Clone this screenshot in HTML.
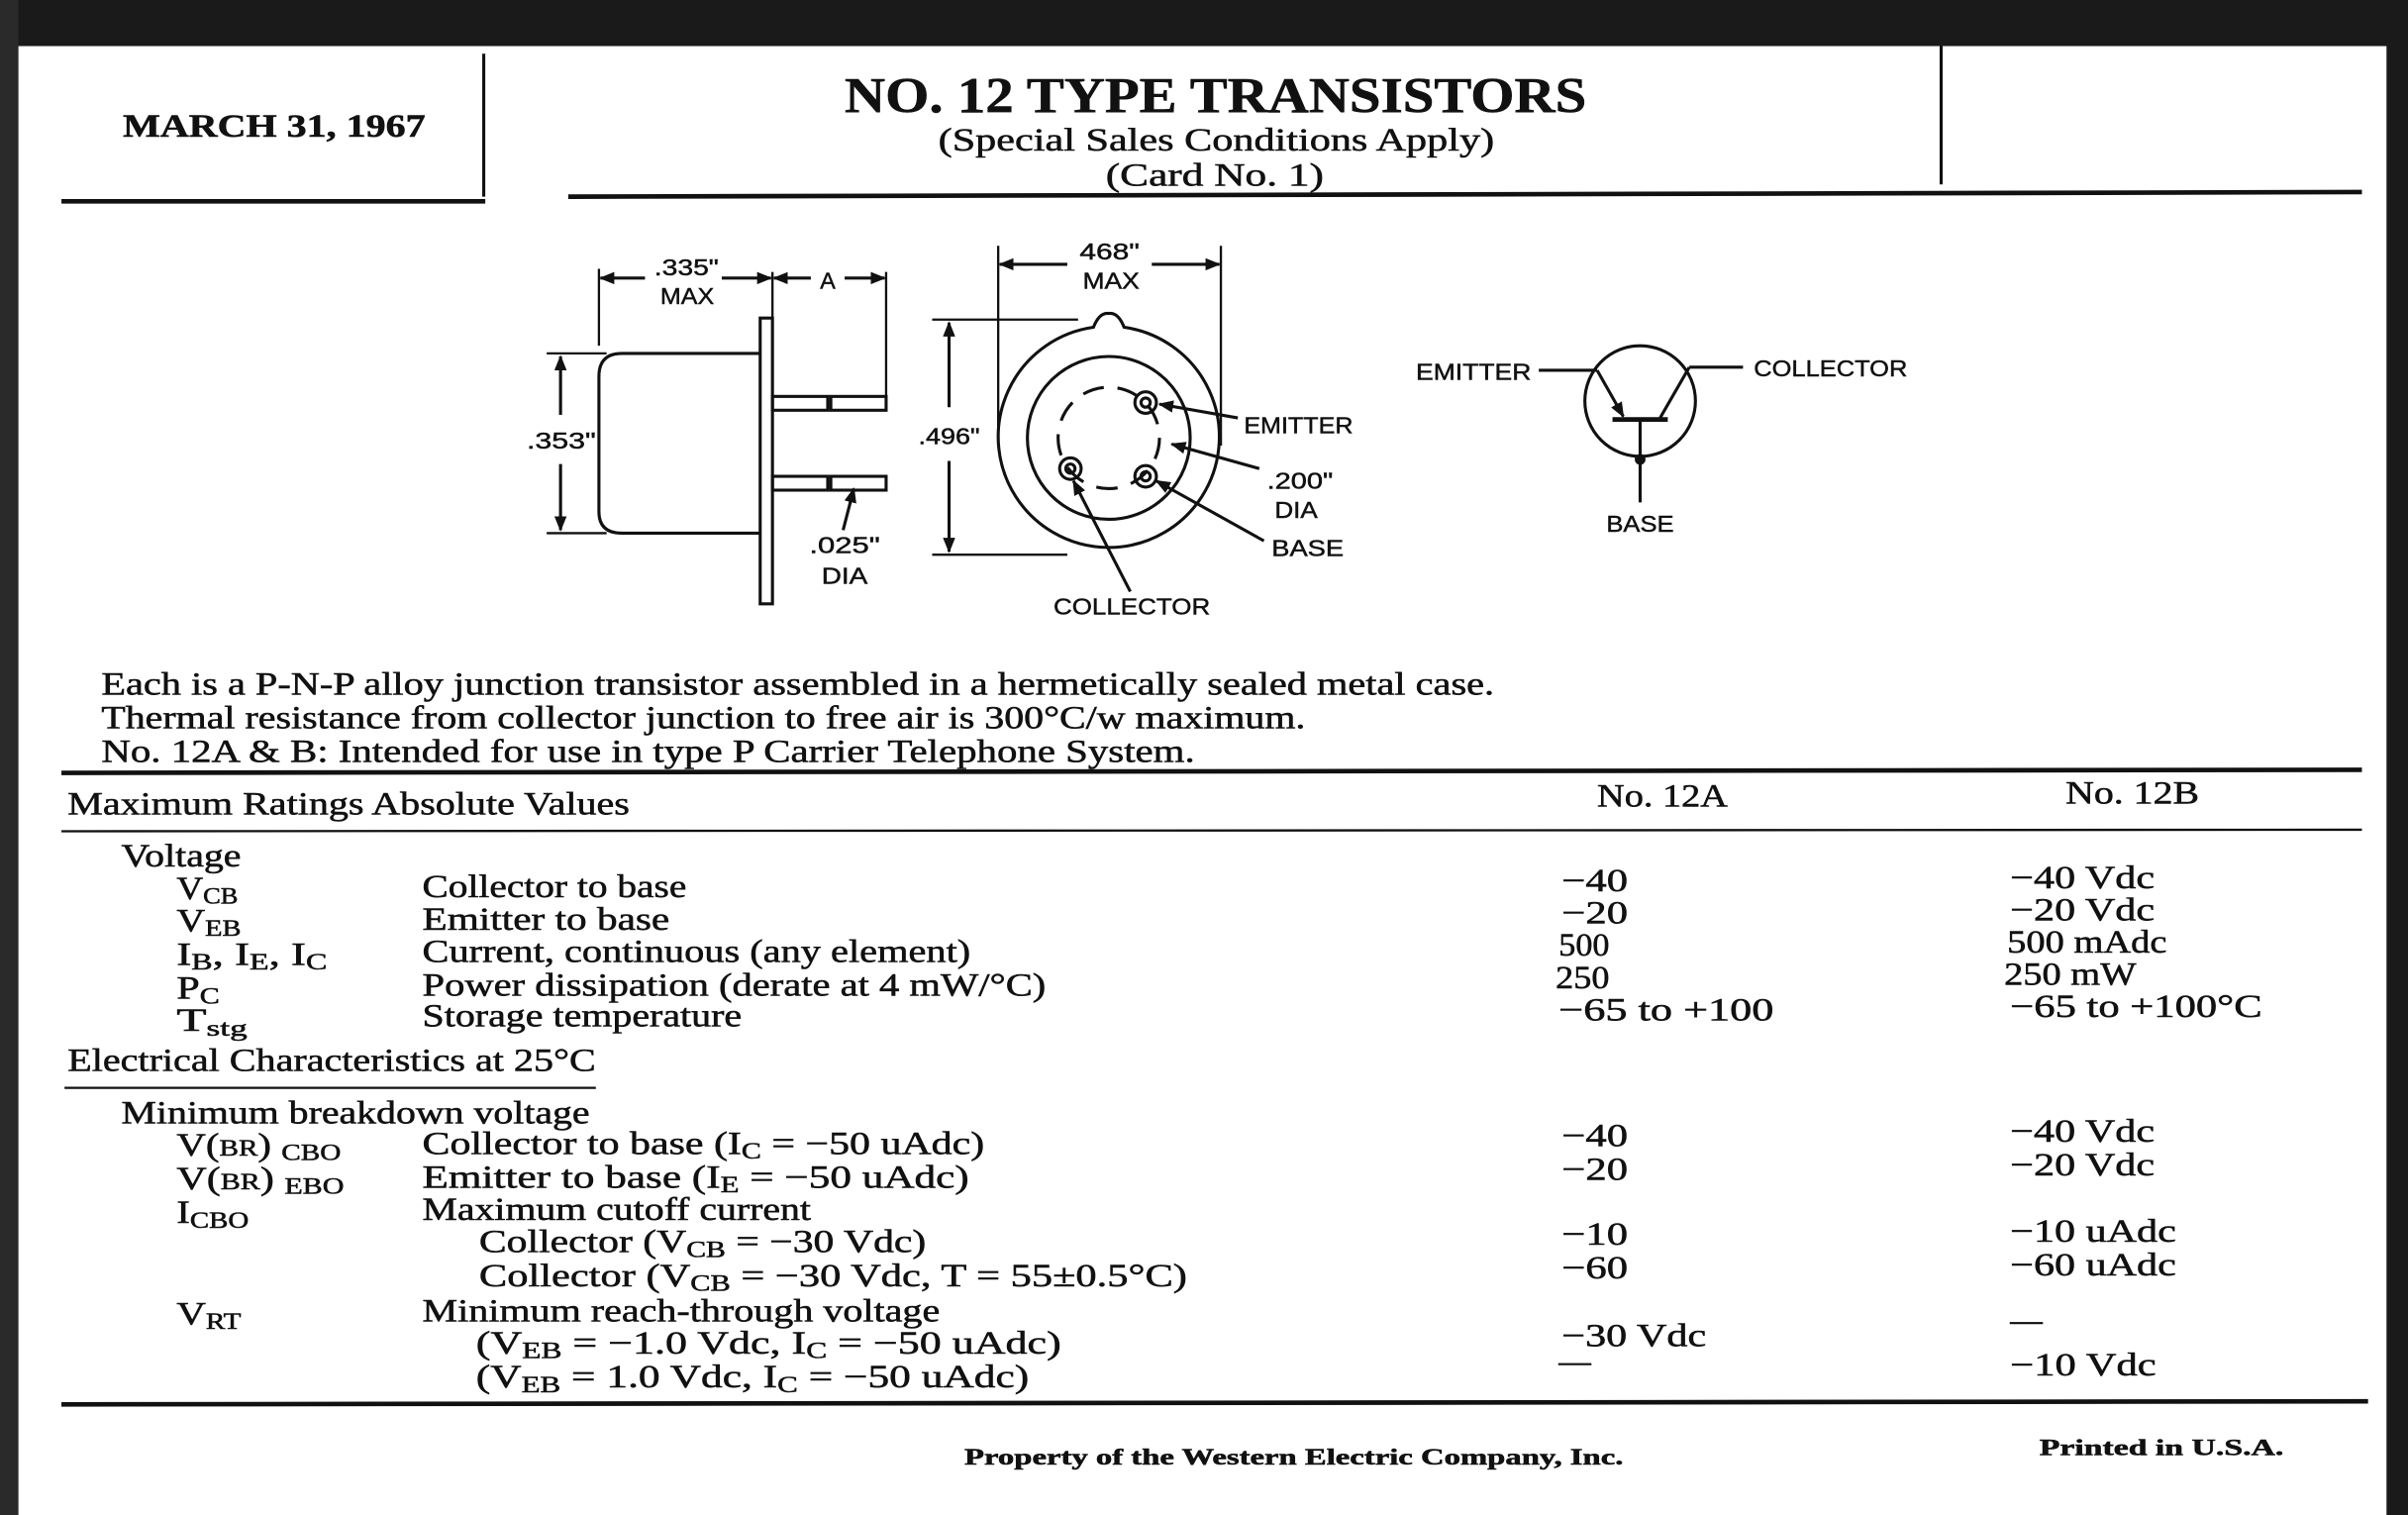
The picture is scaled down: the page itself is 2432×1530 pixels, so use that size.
<!DOCTYPE html>
<html><head><meta charset="utf-8"><style>
html,body{margin:0;padding:0;background:#fff;}
svg{display:block;}
.s{font-family:"Liberation Serif",serif;fill:#111;stroke:#111;stroke-width:0.35;}
.a{font-family:"Liberation Sans",sans-serif;fill:#111;font-size:15px;stroke:#111;stroke-width:0.3;}
</style></head><body>
<svg width="2432" height="1530" viewBox="0 0 1568 986" preserveAspectRatio="none" xmlns="http://www.w3.org/2000/svg">
<defs>
<marker id="ar" markerWidth="10" markerHeight="8" refX="9" refY="4" orient="auto" markerUnits="userSpaceOnUse"><path d="M0,0 L10,4 L0,8 z" fill="#111"/></marker>
</defs>
<rect width="1568" height="986" fill="#fff"/>
<rect x="0" y="0" width="1568" height="30" fill="#1a1a1a"/>
<rect x="0" y="0" width="12" height="986" fill="#2a2a2a"/>
<rect x="1554" y="0" width="14" height="986" fill="#1a1a1a"/>
<g stroke="#111" fill="none">
<line x1="315" y1="35" x2="315" y2="128" stroke-width="2"/>
<line x1="40" y1="131" x2="316" y2="131" stroke-width="3"/>
<line x1="370" y1="128" x2="1538" y2="125" stroke-width="3"/>
<line x1="1264" y1="30" x2="1264" y2="120" stroke-width="2"/>
<line x1="40" y1="503" x2="1538" y2="501" stroke-width="3"/>
<line x1="40" y1="541" x2="1538" y2="540" stroke-width="1.5"/>
<line x1="42" y1="708" x2="388" y2="708" stroke-width="1.5"/>
<line x1="40" y1="914" x2="1542" y2="912" stroke-width="3"/>
</g>
<g lengthAdjust="spacingAndGlyphs">
<text class="s" x="80" y="89" font-size="21" font-weight="bold" textLength="197" lengthAdjust="spacingAndGlyphs">MARCH 31, 1967</text>
<text class="s" x="550" y="73" font-size="33" font-weight="bold" textLength="483" lengthAdjust="spacingAndGlyphs">NO. 12 TYPE TRANSISTORS</text>
<text class="s" x="611" y="98" font-size="21" textLength="362" lengthAdjust="spacingAndGlyphs">(Special Sales Conditions Apply)</text>
<text class="s" x="720" y="121" font-size="21" textLength="142" lengthAdjust="spacingAndGlyphs">(Card No. 1)</text>
</g>

<!-- side view -->
<g stroke="#111" stroke-width="2" fill="none">
<path d="M495,230 L405,230 Q390,230 390,245 L390,333 Q390,347 405,347 L495,347"/>
<rect x="495" y="207" width="8" height="186"/>
<rect x="503" y="258" width="36" height="9"/><rect x="541" y="258" width="36" height="9"/>
<rect x="503" y="310" width="36" height="9"/><rect x="541" y="310" width="36" height="9"/>
<line x1="390" y1="175" x2="390" y2="225" stroke-width="1.5"/>
<line x1="503" y1="177" x2="503" y2="207" stroke-width="1.5"/>
<line x1="577" y1="177" x2="577" y2="258" stroke-width="1.5"/>
<line x1="420" y1="181" x2="391" y2="181" marker-end="url(#ar)"/>
<line x1="470" y1="181" x2="502" y2="181" marker-end="url(#ar)"/>
<line x1="528" y1="181" x2="504" y2="181" marker-end="url(#ar)"/>
<line x1="550" y1="181" x2="576" y2="181" marker-end="url(#ar)"/>
<line x1="356" y1="230" x2="395" y2="230" stroke-width="1.5"/>
<line x1="356" y1="347" x2="395" y2="347" stroke-width="1.5"/>
<line x1="365" y1="270" x2="365" y2="232" marker-end="url(#ar)"/>
<line x1="365" y1="302" x2="365" y2="345" marker-end="url(#ar)"/>
<line x1="549" y1="345" x2="556" y2="318" marker-end="url(#ar)"/>
</g>
<text class="a" x="426" y="179" textLength="42" lengthAdjust="spacingAndGlyphs">.335"</text>
<text class="a" x="430" y="198" textLength="35" lengthAdjust="spacingAndGlyphs">MAX</text>
<text class="a" x="539" y="188" text-anchor="middle">A</text>
<text class="a" x="343" y="292" textLength="45" lengthAdjust="spacingAndGlyphs">.353"</text>
<text class="a" x="527" y="360" textLength="46" lengthAdjust="spacingAndGlyphs">.025"</text>
<text class="a" x="535" y="380" textLength="30" lengthAdjust="spacingAndGlyphs">DIA</text>

<!-- front view -->
<g stroke="#111" stroke-width="2" fill="none">
<path d="M712,213 Q716,203 722,204 Q728,203 732,213 A72,72 0 1 1 712,213 Z"/>
<circle cx="722" cy="285" r="53"/>
<circle cx="722" cy="285" r="33" stroke-dasharray="14,9"/>
<circle cx="746" cy="262" r="7"/><circle cx="746" cy="262" r="3"/>
<circle cx="697" cy="305" r="7"/><circle cx="697" cy="305" r="3"/>
<circle cx="746" cy="310" r="7"/><circle cx="746" cy="310" r="3"/>
<line x1="650" y1="160" x2="650" y2="280" stroke-width="1.5"/>
<line x1="795" y1="160" x2="795" y2="290" stroke-width="1.5"/>
<line x1="695" y1="172" x2="651" y2="172" marker-end="url(#ar)"/>
<line x1="750" y1="172" x2="794" y2="172" marker-end="url(#ar)"/>
<line x1="607" y1="208" x2="702" y2="208" stroke-width="1.5"/>
<line x1="607" y1="361" x2="695" y2="361" stroke-width="1.5"/>
<line x1="618" y1="265" x2="618" y2="210" marker-end="url(#ar)"/>
<line x1="618" y1="300" x2="618" y2="359" marker-end="url(#ar)"/>
<line x1="806" y1="272" x2="755" y2="263" marker-end="url(#ar)"/>
<line x1="820" y1="305" x2="763" y2="289" marker-end="url(#ar)"/>
<line x1="823" y1="352" x2="753" y2="313" marker-end="url(#ar)"/>
<line x1="736" y1="385" x2="699" y2="313" marker-end="url(#ar)"/>
</g>
<text class="a" x="703" y="169" textLength="39" lengthAdjust="spacingAndGlyphs">468"</text>
<text class="a" x="705" y="188" textLength="37" lengthAdjust="spacingAndGlyphs">MAX</text>
<text class="a" x="598" y="289" textLength="40" lengthAdjust="spacingAndGlyphs">.496"</text>
<text class="a" x="810" y="282" textLength="71" lengthAdjust="spacingAndGlyphs">EMITTER</text>
<text class="a" x="825" y="318" textLength="43" lengthAdjust="spacingAndGlyphs">.200"</text>
<text class="a" x="830" y="337" textLength="28" lengthAdjust="spacingAndGlyphs">DIA</text>
<text class="a" x="828" y="362" textLength="47" lengthAdjust="spacingAndGlyphs">BASE</text>
<text class="a" x="686" y="400" textLength="102" lengthAdjust="spacingAndGlyphs">COLLECTOR</text>

<!-- symbol -->
<g stroke="#111" stroke-width="2" fill="none">
<circle cx="1068" cy="261" r="36"/>
<line x1="1002" y1="241" x2="1040" y2="241"/>
<line x1="1040" y1="241" x2="1057" y2="271" marker-end="url(#ar)"/>
<line x1="1100" y1="239" x2="1135" y2="239"/>
<line x1="1100" y1="239" x2="1081" y2="272"/>
<line x1="1050" y1="273" x2="1086" y2="273" stroke-width="3"/>
<line x1="1068" y1="273" x2="1068" y2="327"/>
</g>
<circle cx="1068" cy="299" r="3.5" fill="#111"/>
<text class="a" x="922" y="247" textLength="75" lengthAdjust="spacingAndGlyphs">EMITTER</text>
<text class="a" x="1142" y="245" textLength="100" lengthAdjust="spacingAndGlyphs">COLLECTOR</text>
<text class="a" x="1046" y="346" textLength="44" lengthAdjust="spacingAndGlyphs">BASE</text>

<g class="s" font-size="21">
<text x="66" y="452" textLength="907" lengthAdjust="spacingAndGlyphs">Each is a P-N-P alloy junction transistor assembled in a hermetically sealed metal case.</text>
<text x="66" y="474" textLength="784" lengthAdjust="spacingAndGlyphs">Thermal resistance from collector junction to free air is 300°C/w maximum.</text>
<text x="66" y="496" textLength="712" lengthAdjust="spacingAndGlyphs">No. 12A &amp; B: Intended for use in type P Carrier Telephone System.</text>
<text x="44" y="530" textLength="366" lengthAdjust="spacingAndGlyphs">Maximum Ratings Absolute Values</text>
<text x="1040" y="525" textLength="85" lengthAdjust="spacingAndGlyphs">No. 12A</text>
<text x="1345" y="523" textLength="87" lengthAdjust="spacingAndGlyphs">No. 12B</text>

<text x="79" y="564" textLength="78" lengthAdjust="spacingAndGlyphs">Voltage</text>
<text x="115" y="585" textLength="40" lengthAdjust="spacingAndGlyphs">V<tspan font-size="15" dy="3">CB</tspan></text>
<text x="275" y="584" textLength="172" lengthAdjust="spacingAndGlyphs">Collector to base</text>
<text x="1017" y="580" textLength="43" lengthAdjust="spacingAndGlyphs">−40</text><text x="1309" y="578" textLength="94" lengthAdjust="spacingAndGlyphs">−40 Vdc</text>
<text x="115" y="606" textLength="42" lengthAdjust="spacingAndGlyphs">V<tspan font-size="15" dy="3">EB</tspan></text>
<text x="275" y="605" textLength="161" lengthAdjust="spacingAndGlyphs">Emitter to base</text>
<text x="1017" y="601" textLength="43" lengthAdjust="spacingAndGlyphs">−20</text><text x="1309" y="599" textLength="94" lengthAdjust="spacingAndGlyphs">−20 Vdc</text>
<text x="115" y="628" textLength="98" lengthAdjust="spacingAndGlyphs">I<tspan font-size="15" dy="3">B</tspan><tspan dy="-3">, I</tspan><tspan font-size="15" dy="3">E</tspan><tspan dy="-3">, I</tspan><tspan font-size="15" dy="3">C</tspan></text>
<text x="275" y="626" textLength="357" lengthAdjust="spacingAndGlyphs">Current, continuous (any element)</text>
<text x="1015" y="622" textLength="33" lengthAdjust="spacingAndGlyphs">500</text><text x="1307" y="620" textLength="104" lengthAdjust="spacingAndGlyphs">500 mAdc</text>
<text x="115" y="650" textLength="28" lengthAdjust="spacingAndGlyphs">P<tspan font-size="15" dy="3">C</tspan></text>
<text x="275" y="648" textLength="406" lengthAdjust="spacingAndGlyphs">Power dissipation (derate at 4 mW/°C)</text>
<text x="1013" y="643" textLength="35" lengthAdjust="spacingAndGlyphs">250</text><text x="1305" y="641" textLength="86" lengthAdjust="spacingAndGlyphs">250 mW</text>
<text x="115" y="671" textLength="46" lengthAdjust="spacingAndGlyphs">T<tspan font-size="15" dy="3">stg</tspan></text>
<text x="275" y="668" textLength="208" lengthAdjust="spacingAndGlyphs">Storage temperature</text>
<text x="1015" y="664" textLength="140" lengthAdjust="spacingAndGlyphs">−65 to +100</text><text x="1309" y="662" textLength="164" lengthAdjust="spacingAndGlyphs">−65 to +100°C</text>
<text x="44" y="697" textLength="344" lengthAdjust="spacingAndGlyphs">Electrical Characteristics at 25°C</text>

<text x="79" y="731" textLength="305" lengthAdjust="spacingAndGlyphs">Minimum breakdown voltage</text>
<text x="115" y="752" textLength="107" lengthAdjust="spacingAndGlyphs">V(<tspan font-size="15">BR</tspan>) <tspan font-size="15" dy="3">CBO</tspan></text>
<text x="275" y="751" textLength="366" lengthAdjust="spacingAndGlyphs">Collector to base (I<tspan font-size="15" dy="3">C</tspan><tspan dy="-3"> = −50 uAdc)</tspan></text>
<text x="1017" y="746" textLength="43" lengthAdjust="spacingAndGlyphs">−40</text><text x="1309" y="743" textLength="94" lengthAdjust="spacingAndGlyphs">−40 Vdc</text>
<text x="115" y="774" textLength="109" lengthAdjust="spacingAndGlyphs">V(<tspan font-size="15">BR</tspan>) <tspan font-size="15" dy="3">EBO</tspan></text>
<text x="275" y="773" textLength="356" lengthAdjust="spacingAndGlyphs">Emitter to base (I<tspan font-size="15" dy="3">E</tspan><tspan dy="-3"> = −50 uAdc)</tspan></text>
<text x="1017" y="768" textLength="43" lengthAdjust="spacingAndGlyphs">−20</text><text x="1309" y="765" textLength="94" lengthAdjust="spacingAndGlyphs">−20 Vdc</text>
<text x="115" y="796" textLength="47" lengthAdjust="spacingAndGlyphs">I<tspan font-size="15" dy="3">CBO</tspan></text>
<text x="275" y="794" textLength="253" lengthAdjust="spacingAndGlyphs">Maximum cutoff current</text>
<text x="312" y="815" textLength="291" lengthAdjust="spacingAndGlyphs">Collector (V<tspan font-size="15" dy="3">CB</tspan><tspan dy="-3"> = −30 Vdc)</tspan></text>
<text x="1017" y="810" textLength="43" lengthAdjust="spacingAndGlyphs">−10</text><text x="1309" y="808" textLength="108" lengthAdjust="spacingAndGlyphs">−10 uAdc</text>
<text x="312" y="837" textLength="461" lengthAdjust="spacingAndGlyphs">Collector (V<tspan font-size="15" dy="3">CB</tspan><tspan dy="-3"> = −30 Vdc, T = 55±0.5°C)</tspan></text>
<text x="1017" y="832" textLength="43" lengthAdjust="spacingAndGlyphs">−60</text><text x="1309" y="830" textLength="108" lengthAdjust="spacingAndGlyphs">−60 uAdc</text>
<text x="115" y="862" textLength="42" lengthAdjust="spacingAndGlyphs">V<tspan font-size="15" dy="3">RT</tspan></text>
<text x="275" y="860" textLength="337" lengthAdjust="spacingAndGlyphs">Minimum reach-through voltage</text>
<text x="310" y="881" textLength="381" lengthAdjust="spacingAndGlyphs">(V<tspan font-size="15" dy="3">EB</tspan><tspan dy="-3"> = −1.0 Vdc, I</tspan><tspan font-size="15" dy="3">C</tspan><tspan dy="-3"> = −50 uAdc)</tspan></text>
<text x="1017" y="876" textLength="94" lengthAdjust="spacingAndGlyphs">−30 Vdc</text><text x="1309" y="866">—</text>
<text x="310" y="903" textLength="360" lengthAdjust="spacingAndGlyphs">(V<tspan font-size="15" dy="3">EB</tspan><tspan dy="-3"> = 1.0 Vdc, I</tspan><tspan font-size="15" dy="3">C</tspan><tspan dy="-3"> = −50 uAdc)</tspan></text>
<text x="1015" y="893">—</text><text x="1309" y="895" textLength="95" lengthAdjust="spacingAndGlyphs">−10 Vdc</text>
</g>
<text class="s" x="628" y="953" font-size="15" font-weight="bold" textLength="429" lengthAdjust="spacingAndGlyphs">Property of the Western Electric Company, Inc.</text>
<text class="s" x="1328" y="947" font-size="15" font-weight="bold" textLength="159" lengthAdjust="spacingAndGlyphs">Printed in U.S.A.</text>
</svg>
</body></html>
